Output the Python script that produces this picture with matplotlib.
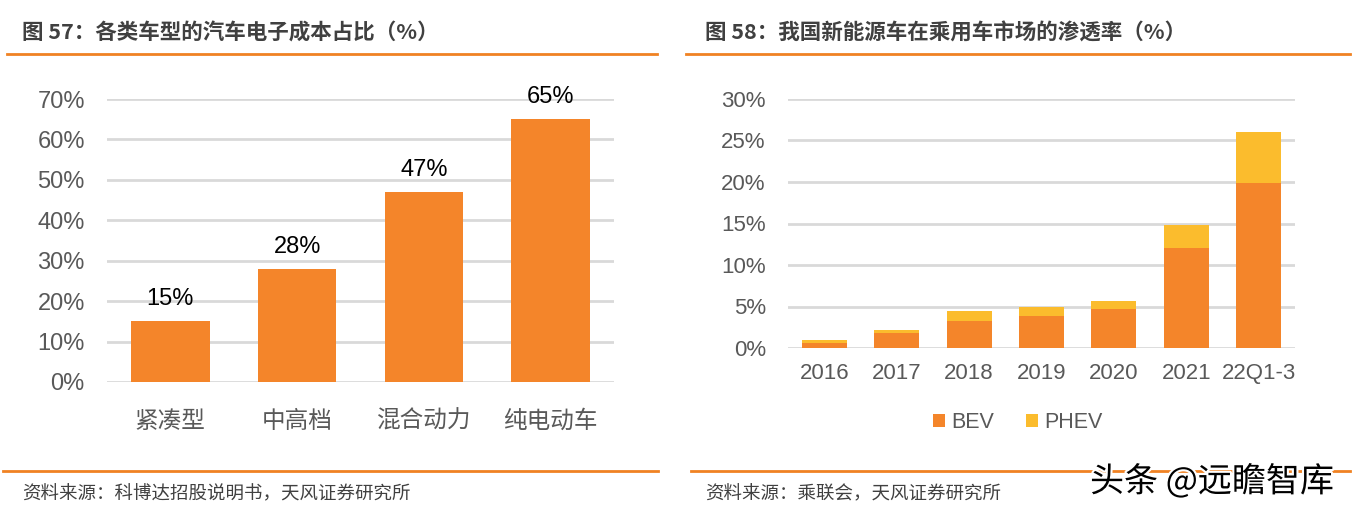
import matplotlib.pyplot as plt
import matplotlib.patheffects as pe

plt.rcParams['font.family'] = ['Liberation Sans', 'Noto Sans CJK SC', 'DejaVu Sans']

# left chart data
car_types = ['紧凑型', '中高档', '混合动力', '纯电动车']
elec_share = [15, 28, 47, 65]

# right chart data
years = ['2016', '2017', '2018', '2019', '2020', '2021', '22Q1-3']
bev = [0.6, 1.8, 3.3, 3.9, 4.7, 12.1, 19.9]
phev = [0.35, 0.35, 1.1, 1.0, 1.0, 2.7, 6.1]

W, H = 1357, 513
ORANGE = '#F4852A'
YELLOW = '#FBBC2D'
LINE = '#F08223'
GRID = '#D9D9D9'
TXT = '#595959'

fig = plt.figure(figsize=(W / 100, H / 100), dpi=100)


def px_axes(x0, x1, ytop, ybot):
    return fig.add_axes([x0 / W, 1 - ybot / H, (x1 - x0) / W, (ybot - ytop) / H])


def style(ax):
    for s in ax.spines.values():
        s.set_visible(False)
    ax.yaxis.grid(True, color=GRID, linewidth=2)
    ax.set_axisbelow(True)
    ax.tick_params(length=0)


# left chart
ax1 = px_axes(107, 614, 99, 382)
ax1.bar(range(len(car_types)), elec_share, width=0.62, color=ORANGE, zorder=3)
ax1.set_ylim(0, 70)
ax1.set_xlim(-0.5, 3.5)
ax1.set_yticks(range(0, 71, 10))
ax1.set_yticklabels([f'{v}%' for v in range(0, 71, 10)], fontsize=17, color=TXT)
ax1.set_xticks(range(len(car_types)))
ax1.set_xticklabels(car_types, fontsize=17, color=TXT, family=['Noto Sans CJK SC'])
ax1.tick_params(axis='y', pad=16)
ax1.tick_params(axis='x', pad=20)
style(ax1)
for i, v in enumerate(elec_share):
    ax1.annotate(f'{v}%', (i, v), xytext=(0, 8), textcoords='offset points',
                 ha='center', va='bottom', fontsize=17, color='black')

# right chart
ax2 = px_axes(788, 1295, 99, 348)
x = range(len(years))
ax2.bar(x, bev, width=0.62, color=ORANGE, label='BEV', zorder=3)
ax2.bar(x, phev, width=0.62, bottom=bev, color=YELLOW, label='PHEV', zorder=3)
ax2.set_ylim(0, 30)
ax2.set_xlim(-0.5, 6.5)
ax2.set_yticks(range(0, 31, 5))
ax2.set_yticklabels([f'{v}%' for v in range(0, 31, 5)], fontsize=16, color=TXT)
ax2.set_xticks(list(x))
ax2.set_xticklabels(years, fontsize=16, color=TXT)
ax2.tick_params(axis='y', pad=16)
ax2.tick_params(axis='x', pad=11)
style(ax2)
leg = ax2.legend(loc='center', bbox_to_anchor=((1018 - 788) / 507, -(423 - 348) / 249),
                 ncol=2, frameon=False, fontsize=15.5, handlelength=0.55, handleheight=0.55,
                 handletextpad=0.3, columnspacing=1.5)
for t in leg.get_texts():
    t.set_color(TXT)


def ftext(xp, yp, s, **kw):
    fig.text(xp / W, 1 - yp / H, s, **kw)


def hline(x0, x1, yp):
    fig.add_artist(plt.Line2D([x0 / W, x1 / W], [1 - yp / H, 1 - yp / H],
                              color=LINE, linewidth=2))


# titles
ftext(22, 33, '图 57：各类车型的汽车电子成本占比（%）', fontsize=15.5, fontweight='bold',
      color='#404040', va='center', family=['Noto Sans CJK SC'])
ftext(705, 33, '图 58：我国新能源车在乘用车市场的渗透率（%）', fontsize=15.5, fontweight='bold',
      color='#404040', va='center', family=['Noto Sans CJK SC'])
hline(7, 657, 54)
hline(686, 1350, 54)
hline(3, 658, 471)
hline(691, 1350, 471)

# sources
ftext(22, 494, '资料来源：科博达招股说明书，天风证券研究所', fontsize=13.3, color='#404040',
      va='center', family=['Noto Sans CJK SC'])
ftext(705, 494, '资料来源：乘联会，天风证券研究所', fontsize=13.3, color='#404040',
      va='center', family=['Noto Sans CJK SC'])

# watermark
ftext(1090, 482, '头条 @远瞻智库', fontsize=24.5, color='black', va='center',
      family=['Noto Sans CJK SC'],
      path_effects=[pe.withStroke(linewidth=3, foreground='white')])

fig.savefig('out.png', dpi=100)
